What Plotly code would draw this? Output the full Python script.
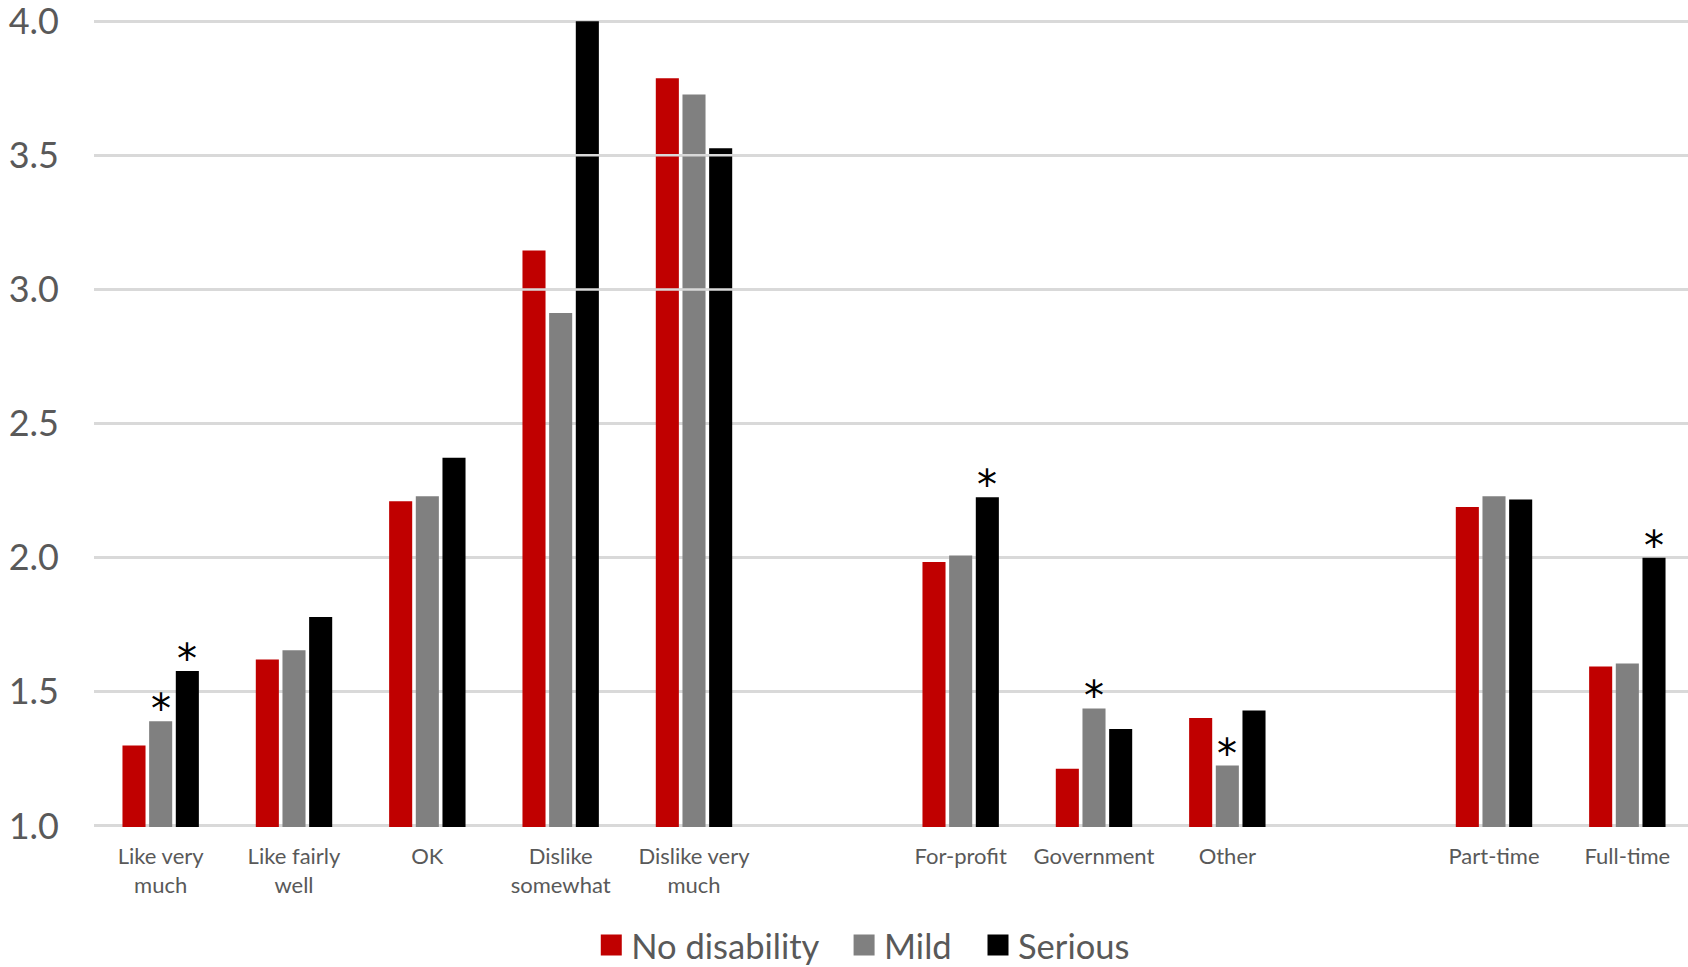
import plotly.graph_objects as go

categories = ["Like very<br>much", "Like fairly<br>well", "OK", "Dislike<br>somewhat",
              "Dislike very<br>much", " ", "For-profit", "Government", "Other", "  ",
              "Part-time", "Full-time"]
no_disability = [1.30, 1.62, 2.21, 3.145, 3.787, None, 1.984, 1.213, 1.402, None, 2.189, 1.594]
mild = [1.39, 1.655, 2.229, 2.912, 3.727, None, 2.008, 1.438, 1.225, None, 2.229, 1.606]
serious = [1.578, 1.779, 2.373, 4.0, 3.526, None, 2.225, 1.361, 1.43, None, 2.217, 2.0]

# significance markers (1 = asterisk above bar)
mild_star = [1, 0, 0, 0, 0, 0, 0, 1, 1, 0, 0, 0]
serious_star = [1, 0, 0, 0, 0, 0, 1, 0, 0, 0, 0, 1]
no_star = [0] * len(categories)

y_ticks = [1.0, 1.5, 2.0, 2.5, 3.0, 3.5, 4.0]
y_ticktext = ["1.0", "1.5", "2.0", "2.5", "3.0", "3.5", "4.0"]
grid_over_bars = [3.0, 3.5]   # in the original these gridlines are drawn on top of the bars

series = [
    ("No disability", no_disability, "#C00000", no_star, "legend"),
    ("Mild", mild, "#808080", mild_star, "legend2"),
    ("Serious", serious, "#000000", serious_star, "legend3"),
]

FONT = "Lato"
GRID = "#D9D9D9"
W, H = 1694, 967
ML, MR, MT, MB = 94, 0, 18, 140
BARGAP, GROUPGAP = 0.40, 0.135

fig = go.Figure()
for name, vals, color, stars, lg in series:
    fig.add_trace(go.Bar(
        x=categories, y=vals, name=name, marker_color=color, marker_line_width=0,
        hoverinfo="skip", showlegend=False,
    ))
for name, vals, color, stars, lg in series:
    fig.add_trace(go.Scatter(
        x=[None], y=[None], mode="markers", name=name, legend=lg,
        marker=dict(symbol="square", size=16, color=color, line=dict(color=color, width=5)),
        showlegend=True, hoverinfo="skip",
    ))

# asterisks above bars, positioned at the bar's category/value
slot_px = (W - ML - MR) / len(categories)
sub_px = slot_px * (1 - BARGAP) / len(series)
for i, (name, vals, color, stars, lg) in enumerate(series):
    shift = (i - (len(series) - 1) / 2) * sub_px
    for cat, v, s in zip(categories, vals, stars):
        if s and v is not None:
            fig.add_annotation(x=cat, y=v, xref="x", yref="y", text="*", showarrow=False,
                               yanchor="bottom", xanchor="center", xshift=shift, yshift=-13,
                               font=dict(size=40, color="black", family="DejaVu Sans"))

for gy in grid_over_bars:
    fig.add_hline(y=gy, line=dict(color=GRID, width=2.5), layer="above")

leg_common = dict(orientation="h", y=-0.146, yanchor="middle", xanchor="left",
                  font=dict(size=34.5, color="#595959", family=FONT), itemwidth=30,
                  bgcolor="rgba(0,0,0,0)")
fig.update_layout(
    width=W, height=H,
    paper_bgcolor="white", plot_bgcolor="white",
    margin=dict(l=ML, r=MR, t=MT, b=MB, autoexpand=False),
    barmode="group", bargap=BARGAP, bargroupgap=GROUPGAP,
    font=dict(family=FONT, color="#595959"),
    showlegend=True,
    legend=dict(x=0.3108, **leg_common),
    legend2=dict(x=0.4688, **leg_common),
    legend3=dict(x=0.5525, **leg_common),
)
fig.update_xaxes(
    type="category", categoryorder="array", categoryarray=categories,
    showgrid=False, showline=False, ticks="", ticklabelstandoff=14, automargin=False,
    tickfont=dict(size=22, color="#595959", family=FONT),
)
fig.update_yaxes(
    range=[0.996, 4.012], tickvals=y_ticks, ticktext=y_ticktext,
    showgrid=True, gridcolor=GRID, gridwidth=2.5, automargin=False,
    zeroline=False, showline=False, ticks="", ticklabelstandoff=34,
    ticklabeloverflow="allow",
    tickfont=dict(size=36, color="#595959", family=FONT),
)

fig.write_html(
    "out.html",
    config={"displayModeBar": False},
    post_script="document.body.style.margin='0';document.body.style.overflow='hidden';",
)
